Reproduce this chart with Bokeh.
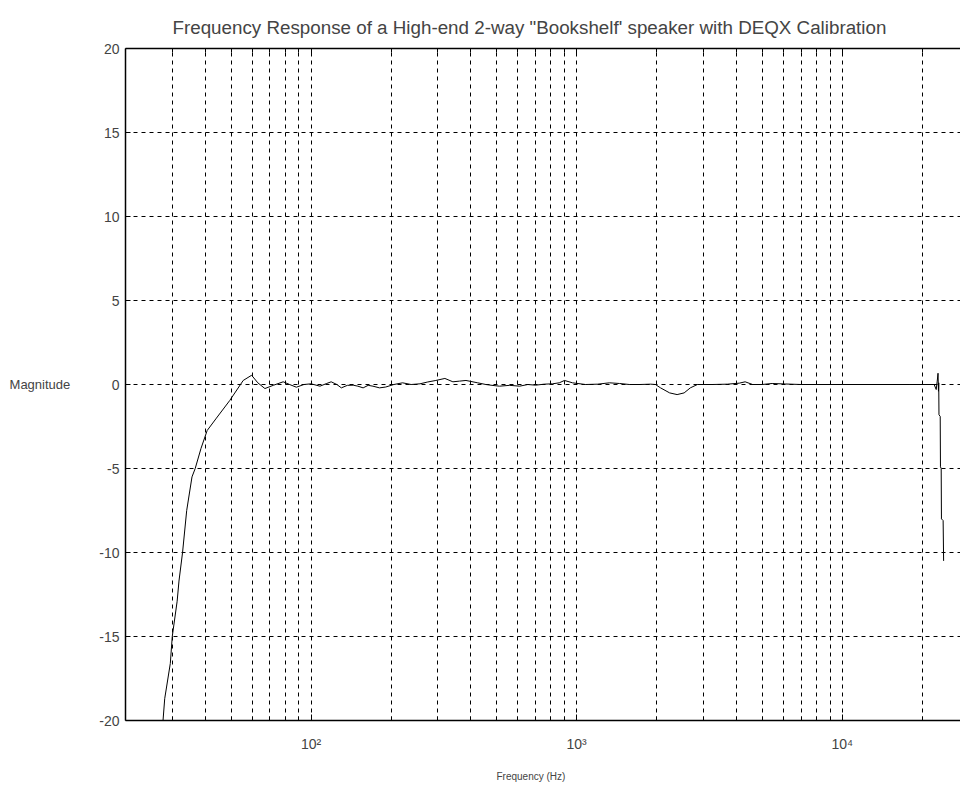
from bokeh.plotting import figure
from bokeh.models import FixedTicker, LogAxis, Range1d, Title
from bokeh.embed import file_html
from bokeh.resources import INLINE

freq_hz = [27.6, 28.1, 29.5, 30.0, 31.3, 31.8, 32.8, 34.0, 35.6, 36.6, 38.5, 40.6, 44, 49.4, 55.5,
           59.7, 63, 67, 72, 78.5, 83, 88, 94, 100, 108, 114, 119, 125, 130, 137, 144, 150, 157,
           164, 171, 181, 191, 205, 221, 238, 257, 275, 295, 319, 342, 362, 383, 424, 455, 480,
           512, 560, 610, 655, 700, 755, 811, 860, 900, 965, 1080, 1200, 1330, 1450, 1580, 1730,
           1900, 1980, 2070, 2240, 2390, 2540, 2680, 2850, 3240, 3700, 4100, 4310, 4600, 4990,
           5450, 6110, 7000, 8500, 10000, 14000, 18000, 22200, 22600, 22800, 22960, 23050, 23100,
           23150, 23400, 23450, 23600, 23650, 24000, 24100]
magnitude_db = [-20.3, -18.7, -16.6, -15.0, -12.9, -11.7, -10.0, -7.5, -5.5, -5.0, -3.8, -2.74, -2.0,
                -0.95, 0.24, 0.55, 0.1, -0.24, -0.05, 0.16, 0.0, -0.16, 0.0, 0.04, -0.1, 0.05, 0.16,
                0.0, -0.2, -0.05, -0.04, -0.1, -0.2, -0.05, -0.1, -0.2, -0.15, 0.0, 0.1, 0.0, 0.04,
                0.15, 0.24, 0.36, 0.16, 0.2, 0.24, 0.1, 0.0, -0.05, -0.1, -0.05, -0.1, 0.0, -0.04,
                0.02, 0.04, 0.1, 0.24, 0.1, 0.0, 0.02, 0.1, 0.06, 0.0, 0.0, 0.02, 0.0, -0.2, -0.5,
                -0.6, -0.5, -0.2, 0.0, 0.0, 0.02, 0.08, 0.16, 0.0, 0.0, 0.06, 0.03, 0.0, 0.0, 0.0,
                0.0, 0.0, 0.0, -0.3, 0.2, 0.67, -0.4, 0.1, -1.8, -1.9, -4.9, -5.0, -8.0, -8.1, -10.5]

x_major_ticks = [100, 1000, 10000]
x_major_labels = {100: "10²", 1000: "10³", 10000: "10⁴"}
x_minor_ticks = [30, 40, 50, 60, 70, 80, 90, 200, 300, 400, 500, 600, 700, 800, 900,
                 2000, 3000, 4000, 5000, 6000, 7000, 8000, 9000, 20000]
y_ticks = [-20, -15, -10, -5, 0, 5, 10, 15, 20]
y_tick_labels = {-20: "-20", -15: "-15", -10: "-10", -5: "-5", 0: "0",
                 5: "5", 10: "10", 15: "15", 20: "20"}
y_grid = [-15, -10, -5, 0, 5, 10, 15]

title_text = "Frequency Response of a High-end 2-way \"Bookshelf' speaker with DEQX Calibration"
x_label = "Frequency (Hz)"
y_label = "Magnitude"
FONT = "Liberation Sans"

p = figure(width=960, height=798, x_axis_type="log",
           x_range=Range1d(20, 27900), y_range=Range1d(-20, 20),
           output_backend="svg", toolbar_location=None,
           min_border_left=125, min_border_right=0, min_border_top=48, min_border_bottom=78)
p.outline_line_color = None
p.background_fill_color = "white"
p.border_fill_color = "white"

p.title.text = title_text
p.title.align = "left"
p.title.vertical_align = "top"
p.title.text_font = FONT
p.title.text_font_size = "18.8px"
p.title.text_font_style = "normal"
p.title.offset = 47
p.title.standoff = 18

p.line(freq_hz, magnitude_db, line_color="black", line_width=1)

xt = FixedTicker(ticks=x_major_ticks, minor_ticks=x_minor_ticks)
ax = p.xaxis[0]
ax.ticker = xt
ax.major_label_overrides = x_major_labels
ax.major_tick_in = 6
ax.major_tick_out = 0
ax.minor_tick_in = 4
ax.minor_tick_out = 0
ax.axis_line_color = "black"
ax.axis_line_width = 1.5
ax.major_label_text_font = FONT
ax.major_label_text_font_size = "14px"
ax.major_label_standoff = 15

xl = Title(text=x_label, align="left", vertical_align="bottom", offset=371, text_font=FONT,
           text_font_size="10px", text_font_style="normal", standoff=28)
p.add_layout(xl, "below")

top = LogAxis(ticker=FixedTicker(ticks=x_major_ticks, minor_ticks=x_minor_ticks),
              major_label_text_alpha=0, major_label_text_font_size="1px",
              major_tick_in=6, major_tick_out=0, minor_tick_in=4, minor_tick_out=0,
              axis_line_width=1.5)
p.add_layout(top, "above")

ay = p.yaxis[0]
ay.ticker = FixedTicker(ticks=y_ticks)
ay.major_label_overrides = y_tick_labels
ay.minor_tick_line_color = None
ay.major_tick_in = 5
ay.major_tick_out = 0
ay.axis_line_width = 1.5
ay.major_label_text_font = FONT
ay.major_label_text_font_size = "14px"
ay.major_label_standoff = 6
ay.axis_label = y_label
ay.axis_label_orientation = "horizontal"
ay.axis_label_text_font = FONT
ay.axis_label_text_font_size = "13px"
ay.axis_label_text_font_style = "normal"
ay.axis_label_standoff = 26

p.xgrid.ticker = FixedTicker(ticks=x_minor_ticks + x_major_ticks)
p.xgrid.grid_line_color = "black"
p.xgrid.grid_line_dash = "4 4"
p.xgrid.grid_line_width = 1
p.ygrid.ticker = FixedTicker(ticks=y_grid)
p.ygrid.grid_line_color = "black"
p.ygrid.grid_line_dash = "4 4"
p.ygrid.grid_line_width = 1

open("out.html", "w").write(file_html(p, INLINE))
